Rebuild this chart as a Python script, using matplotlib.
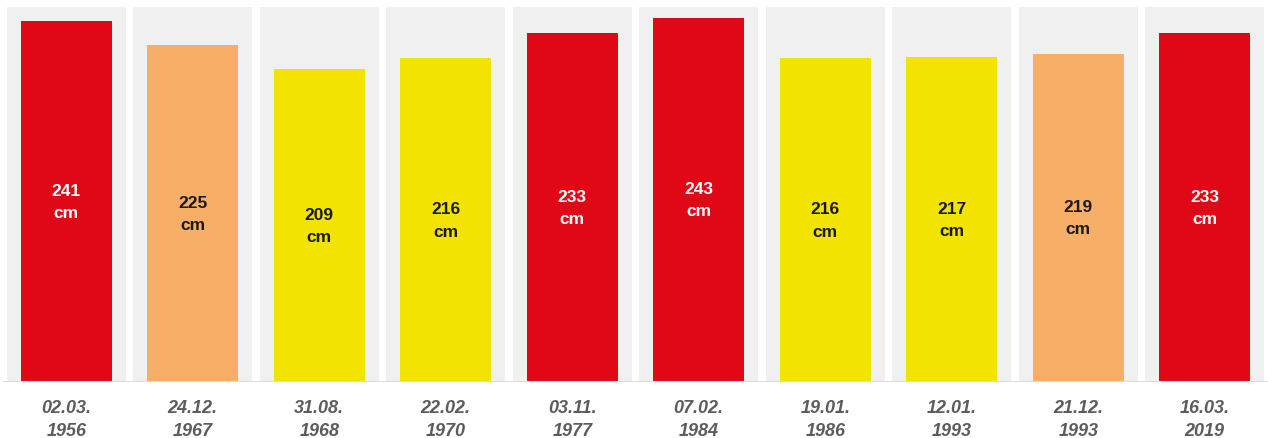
import matplotlib.pyplot as plt

plt.rcParams['font.family'] = ['Liberation Sans', 'DejaVu Sans']

# Daten
DATEN = ['02.03.\n1956', '24.12.\n1967', '31.08.\n1968', '22.02.\n1970', '03.11.\n1977',
         '07.02.\n1984', '19.01.\n1986', '12.01.\n1993', '21.12.\n1993', '16.03.\n2019']
HOEHE = [241, 225, 209, 216, 233, 243, 216, 217, 219, 233]
STUFE = ['rot', 'orange', 'gelb', 'gelb', 'rot', 'rot', 'gelb', 'gelb', 'orange', 'rot']

FARBEN = {'rot': '#e00817', 'orange': '#f7ae66', 'gelb': '#f2e400'}
TEXTFARBE = {'rot': 'white', 'orange': '#1a1a1a', 'gelb': '#1a1a1a'}
YMAX = 250

fig = plt.figure(figsize=(12.68, 4.39), dpi=100)
ax = fig.add_axes([3 / 1268, 56 / 439, 1265 / 1268, 375 / 439])

x = list(range(len(HOEHE)))
ax.bar(x, [YMAX] * len(x), width=0.94, color='#f0f0f0', zorder=1)
ax.bar(x, HOEHE, width=0.72, color=[FARBEN[s] for s in STUFE], zorder=2)
ax.axhline(0, color='#dcdcdc', lw=1.5, zorder=3)

for xi, h, s in zip(x, HOEHE, STUFE):
    ax.text(xi, h / 2, f'{h}\ncm', ha='center', va='center', fontsize=12.5,
            fontweight='bold', color=TEXTFARBE[s], linespacing=1.6, zorder=4)

ax.set_xlim(-0.5, len(x) - 0.5)
ax.set_ylim(0, YMAX)
ax.set_xticks(x)
ax.set_xticklabels(DATEN, fontsize=13, fontstyle='italic', fontweight='bold',
                   color='#5c5c5c', linespacing=1.45)
ax.tick_params(axis='x', length=0, pad=12)
ax.set_yticks([])
for sp in ax.spines.values():
    sp.set_visible(False)

plt.savefig('out.png', dpi=100)
